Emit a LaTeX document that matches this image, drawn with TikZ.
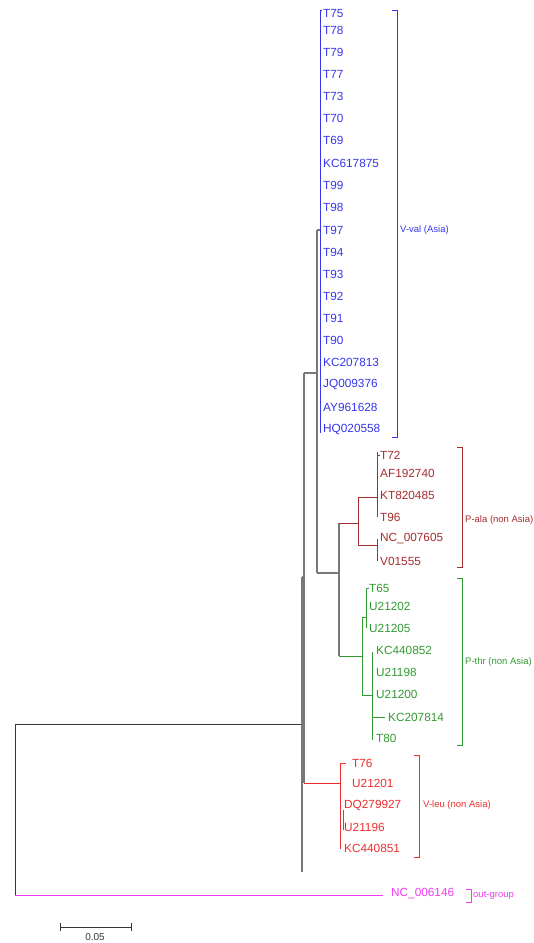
\documentclass[tikz,border=0pt]{standalone}
\usepackage{fontspec}
\setmainfont{Liberation Sans}
\definecolor{cblue}{RGB}{55,55,235}
\definecolor{cbrown}{RGB}{165,45,45}
\definecolor{cgreen}{RGB}{50,155,50}
\definecolor{cred}{RGB}{240,45,45}
\definecolor{cpink}{RGB}{240,60,240}
\definecolor{cgrey}{RGB}{120,120,120}
\definecolor{cdark}{RGB}{55,55,55}
\tikzset{
  taxon/.style={anchor=west, inner sep=0pt, font=\fontsize{11.8}{12}\selectfont},
  cladelbl/.style={anchor=west, inner sep=0pt, font=\fontsize{9.5}{10}\selectfont},
  gbranch/.style={draw=cgrey, line width=1.6pt},
  dbranch/.style={draw=cdark, line width=0.9pt},
  bbranch/.style={draw=cblue, line width=0.9pt},
  rbranch/.style={draw=cbrown, line width=0.9pt},
  gnbranch/.style={draw=cgreen, line width=0.9pt},
  lbranch/.style={draw=cred, line width=0.9pt},
  pbranch/.style={draw=cpink, line width=0.9pt},
  brk/.style={line width=0.9pt}
}
\begin{document}
\begin{tikzpicture}[x=1pt,y=-1pt]
\useasboundingbox (0,0) rectangle (534,943);
\fill[white] (0,0) rectangle (534,943);

% ---- blue clade labels
\foreach \t/\y [count=\i] in {T75/13,T78/30,T79/52,T77/74,T73/96,T70/118,T69/140,KC617875/163,T99/185,T98/207,T97/230,T94/252,T93/274,T92/296,T91/318,T90/340,KC207813/362,JQ009376/384,AY961628/407,HQ020558/429}
  \node[taxon, text=cblue] (b\i) at (323,\y) {\t};

% ---- brown clade labels
\foreach \t/\y [count=\i] in {T72/455,AF192740/473,KT820485/495,T96/517,NC\_007605/539,V01555/561}
  \node[taxon, text=cbrown] (p\i) at (380,\y) {\t};

% ---- green clade labels
\node[taxon, text=cgreen] (g1) at (369,588) {T65};
\node[taxon, text=cgreen] (g2) at (369,606) {U21202};
\node[taxon, text=cgreen] (g3) at (369,628) {U21205};
\node[taxon, text=cgreen] (g4) at (376,650) {KC440852};
\node[taxon, text=cgreen] (g5) at (376,672) {U21198};
\node[taxon, text=cgreen] (g6) at (376,694) {U21200};
\node[taxon, text=cgreen] (g7) at (388,717) {KC207814};
\node[taxon, text=cgreen] (g8) at (376,738) {T80};

% ---- red clade labels
\node[taxon, text=cred] (r1) at (352,763) {T76};
\node[taxon, text=cred] (r2) at (352,783) {U21201};
\node[taxon, text=cred] (r3) at (344,805) {DQ279927};
\node[taxon, text=cred] (r4) at (344,827) {U21196};
\node[taxon, text=cred] (r5) at (344,848) {KC440851};

% ---- outgroup label
\node[taxon, text=cpink] (og) at (391,894) {NC\_006146};

% ---- internal coordinates
\coordinate (root) at (15,724);
\coordinate (ing) at (302,724);
\coordinate (n1) at (304,577);
\coordinate (n2) at (317,373);
\coordinate (bl) at (320,230);
\coordinate (pn) at (339,573);
\coordinate (pa) at (358,523);
\coordinate (pa1) at (377,497);
\coordinate (pa2) at (377,545);
\coordinate (pt) at (362,656);
\coordinate (pt1) at (366,617);
\coordinate (pt2) at (372,695);
\coordinate (vl) at (340,783);
\coordinate (otip) at (383,895);

% ---- grey / dark backbone
\draw[dbranch] (root) -- (ing);
\draw[dbranch] (15,724) -- (15,895);
\draw[gbranch] (302,577) -- (302,872);
\draw[gbranch] (302,577) -- (n1);
\draw[gbranch] (304,373) -- (304,783);
\draw[gbranch] (304,373) -- (n2);
\draw[gbranch] (317,230) -- (317,573);
\draw[gbranch] (317,230) -- (bl);
\draw[gbranch] (317,573) -- (pn);
\draw[gbranch] (339,523) -- (339,656);

% ---- blue clade
\draw[bbranch] (320,10) -- (320,433);
\draw[bbranch] (320,10) -- (322,10);

% ---- brown clade
\draw[rbranch] (339,523) -- (pa);
\draw[rbranch] (358,497) -- (358,545);
\draw[rbranch] (358,497) -- (pa1);
\draw[rbranch] (377,452) -- (377,517);
\draw[rbranch] (377,455) -- (p1.west);
\draw[rbranch] (358,545) -- (pa2);
\draw[rbranch] (377,539) -- (377,561);

% ---- green clade
\draw[gnbranch] (339,656) -- (pt);
\draw[gnbranch] (362,617) -- (362,695);
\draw[gnbranch] (362,617) -- (pt1);
\draw[gnbranch] (366,589) -- (366,628);
\draw[gnbranch] (366,589) -- (g1.west);
\draw[gnbranch] (362,695) -- (pt2);
\draw[gnbranch] (372,652) -- (372,740);
\draw[gnbranch] (372,717) -- (385,717);

% ---- red clade
\draw[lbranch] (304,783) -- (vl);
\draw[lbranch] (340,763) -- (340,849);
\draw[lbranch] (340,763) -- (346,763);
\draw[lbranch] (343,810) -- (343,830);

% ---- outgroup
\draw[pbranch] (15,895) -- (otip);

% ---- clade brackets
\draw[brk, cblue] (392,10) -- (397,10) -- (397,437) -- (392,437);
\node[cladelbl, text=cblue] (lv) at (400,230) {V-val (Asia)};
\draw[brk, cbrown] (457,447) -- (462,447) -- (462,567) -- (457,567);
\node[cladelbl, text=cbrown] (lp) at (465,520) {P-ala (non Asia)};
\draw[brk, cgreen] (457,578) -- (462,578) -- (462,745) -- (457,745);
\node[cladelbl, text=cgreen] (lt) at (465,662) {P-thr (non Asia)};
\draw[brk, cred] (414,755) -- (419,755) -- (419,857) -- (414,857);
\node[cladelbl, text=cred] (ll) at (423,805) {V-leu (non Asia)};
\draw[brk, cpink] (466,889) -- (471,889) -- (471,902) -- (466,902);
\node[cladelbl, text=cpink] (lo) at (473,895) {out-group};

% ---- scale bar
\coordinate (sa) at (60,927);
\coordinate (sb) at (131,927);
\draw[dbranch] (sa) -- (sb);
\draw[dbranch] (60,923) -- (60,931);
\draw[dbranch] (131,923) -- (131,931);
\node[inner sep=0pt, font=\fontsize{10}{10}\selectfont, text=cdark] (sl) at (95,937) {0.05};
\end{tikzpicture}
\end{document}
